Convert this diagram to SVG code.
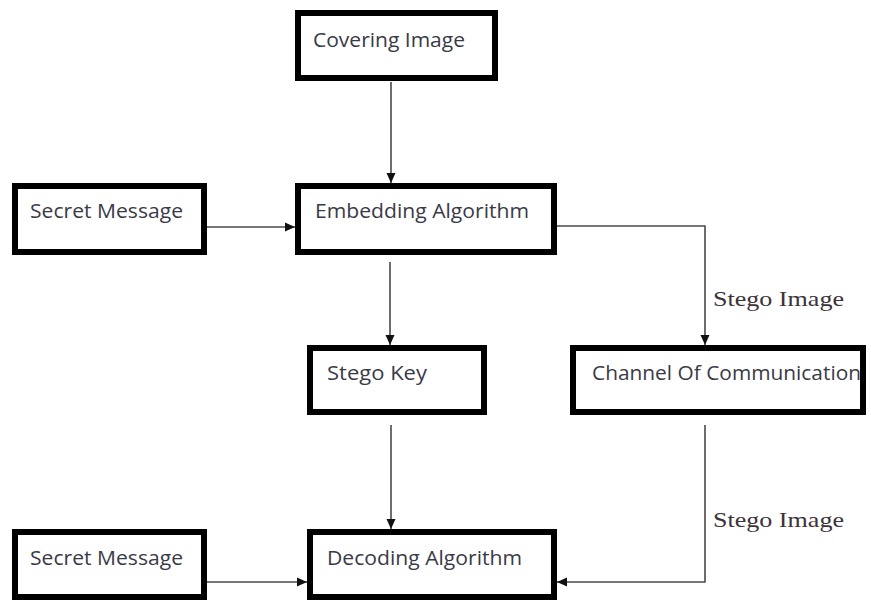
<svg xmlns="http://www.w3.org/2000/svg" width="871" height="613" viewBox="0 0 871 613">
  <style>
    .box { fill: #ffffff; stroke: #000000; stroke-width: 6; }
    .lbl { font-family: "Open Sans", "Noto Sans", "Liberation Sans", sans-serif; font-size: 20px; fill: #3a3a46; }
    .edge { fill: none; stroke: #4a4a4a; stroke-width: 1.6; }
    .elbl { font-family: "Liberation Serif", "DejaVu Serif", serif; font-size: 22px; fill: #3d3338; }
  </style>
  <defs>
    <marker id="arrow" markerUnits="userSpaceOnUse" markerWidth="12" markerHeight="12" viewBox="0 0 12 12" refX="11" refY="6" orient="auto">
      <path d="M1,1.5 L11,6 L1,10.5 Z" fill="#111111"/>
    </marker>
  </defs>
  <rect width="871" height="613" fill="#ffffff"/>

  <!-- connectors -->
  <g id="connectors">
    <path class="edge" d="M391,82 V183" marker-end="url(#arrow)"/>
    <path class="edge" d="M207,227 H295" marker-end="url(#arrow)"/>
    <path class="edge" d="M557,226 H705 V345" marker-end="url(#arrow)"/>
    <path class="edge" d="M390,262 V345" marker-end="url(#arrow)"/>
    <path class="edge" d="M391,425 V529" marker-end="url(#arrow)"/>
    <path class="edge" d="M705,425 V582 H557" marker-end="url(#arrow)"/>
    <path class="edge" d="M207,582 H307" marker-end="url(#arrow)"/>
    <text class="elbl" x="713" y="306" textLength="131" lengthAdjust="spacingAndGlyphs">Stego Image</text>
    <text class="elbl" x="713" y="527" textLength="131" lengthAdjust="spacingAndGlyphs">Stego Image</text>
  </g>

  <g id="covering-image">
    <rect class="box" x="298" y="13" width="197" height="65"/>
    <text class="lbl" x="313" y="47" textLength="152" lengthAdjust="spacingAndGlyphs">Covering Image</text>
  </g>

  <g id="secret-message-in">
    <rect class="box" x="15" y="186" width="189" height="66"/>
    <text class="lbl" x="30" y="218" textLength="153" lengthAdjust="spacingAndGlyphs">Secret Message</text>
  </g>

  <g id="embedding-algorithm">
    <rect class="box" x="298" y="186" width="256" height="66"/>
    <text class="lbl" x="315" y="218" textLength="214" lengthAdjust="spacingAndGlyphs">Embedding Algorithm</text>
  </g>

  <g id="stego-key">
    <rect class="box" x="310" y="348" width="174" height="64"/>
    <text class="lbl" x="327" y="380" textLength="100" lengthAdjust="spacingAndGlyphs">Stego Key</text>
  </g>

  <g id="channel">
    <rect class="box" x="573" y="348" width="290" height="64"/>
    <text class="lbl" x="592" y="380" textLength="269" lengthAdjust="spacingAndGlyphs">Channel Of Communication</text>
  </g>

  <g id="secret-message-out">
    <rect class="box" x="15" y="532" width="189" height="65"/>
    <text class="lbl" x="30" y="565" textLength="153" lengthAdjust="spacingAndGlyphs">Secret Message</text>
  </g>

  <g id="decoding-algorithm">
    <rect class="box" x="310" y="532" width="244" height="65"/>
    <text class="lbl" x="327" y="565" textLength="195" lengthAdjust="spacingAndGlyphs">Decoding Algorithm</text>
  </g>
</svg>
